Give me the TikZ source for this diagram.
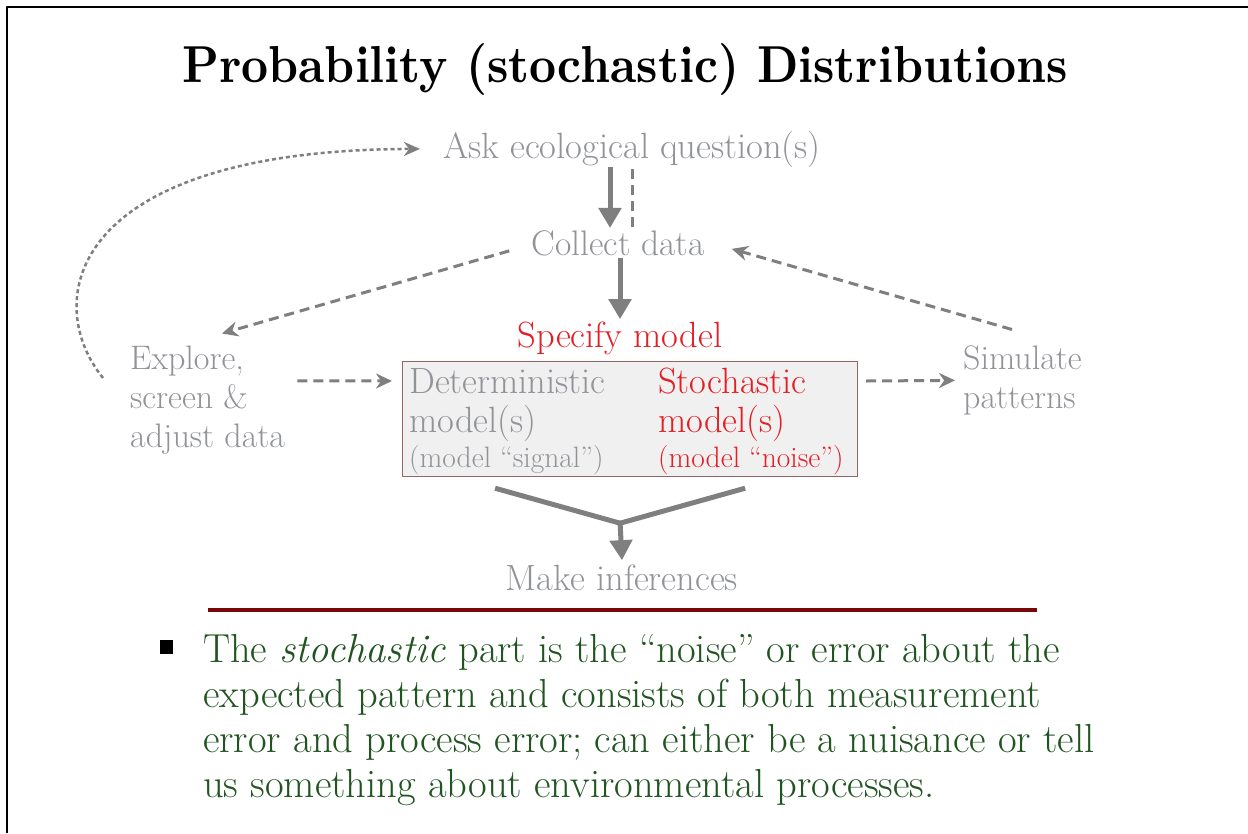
\documentclass[tikz,border=0pt]{standalone}
\usepackage{graphicx}
\usetikzlibrary{arrows.meta,positioning}

\definecolor{txtgray}{RGB}{145,147,152}
\definecolor{arrgray}{RGB}{127,127,127}
\definecolor{hotred}{RGB}{228,30,36}
\definecolor{boxfill}{RGB}{240,240,240}
\definecolor{boxline}{RGB}{150,100,100}
\definecolor{rulered}{RGB}{120,8,8}
\definecolor{notegreen}{RGB}{32,84,32}

\begin{document}
\begin{tikzpicture}[x=1pt, y=-1pt, line join=round,
  lbl/.style={inner sep=0pt, text=txtgray, font=\fontsize{36.5}{39}\selectfont},
  side/.style={inner sep=0pt, text=txtgray, font=\fontsize{34}{39}\selectfont},
  small/.style={inner sep=0pt, font=\fontsize{29.5}{32}\selectfont},
  solidarr/.style={draw=arrgray, line width=5pt, -{Triangle[length=20pt,width=22pt]}},
  dasharr/.style={draw=arrgray, line width=3pt, dash pattern=on 10pt off 6pt, -{Stealth[length=16pt,width=15pt]}},
  dotarr/.style={draw=arrgray, line width=2.5pt, dash pattern=on 4pt off 3pt, -{Stealth[length=16pt,width=14pt]}}]
\useasboundingbox (0,0) rectangle (1248,833);
\fill[white] (0,0) rectangle (1248,833);
\draw[line width=2pt] (1248,7) -- (7,7) -- (7,833);

% title
\node[anchor=base, inner sep=0pt] (title) at (625,82)
  {\resizebox{885pt}{39pt}{\bfseries Probability (stochastic) Distributions}};

% flow
\node[lbl, anchor=base] (ask) at (632,158) {Ask ecological question(s)};
\node[lbl, anchor=base, font=\fontsize{35.5}{39}\selectfont] (collect) at (618,255) {Collect data};
\node[lbl, anchor=base, text=hotred] (specify) at (620,347) {Specify model};
\node[side, anchor=north west, align=left] (explore) at (130,345.5) {Explore,\\screen \&\\adjust data};
\node[side, anchor=north west, align=left] (simulate) at (963,345.5) {Simulate\\patterns};
\node[draw=boxline, line width=1.2pt, fill=boxfill, anchor=north west,
  minimum width=455pt, minimum height=115pt] (modelbox) at (402,361) {};
\node[lbl, anchor=base west] (det1) at (409,393) {Deterministic};
\node[lbl, anchor=base west] (det2) at (409,432) {model(s)};
\node[small, text=txtgray, anchor=base west] (det3) at (409,467) {(model ``signal'')};
\node[lbl, anchor=base west, text=hotred] (sto1) at (658,393) {Stochastic};
\node[lbl, anchor=base west, text=hotred] (sto2) at (658,432) {model(s)};
\node[small, text=hotred, anchor=base west] (sto3) at (658,467) {(model ``noise'')};
\node[lbl, anchor=base] (infer) at (622,590) {Make inferences};
\coordinate (merge) at ([xshift=-10pt,yshift=-46pt]modelbox.south);

\draw[solidarr] ([xshift=-22pt]ask.south) -- ([xshift=-8pt,yshift=2pt]collect.north);
\draw[arrgray, line width=3pt, dash pattern=on 10pt off 6pt] ([xshift=0pt,yshift=-2pt]ask.south) -- ([xshift=14pt]collect.north);
\draw[solidarr] ([xshift=2pt,yshift=-2pt]collect.south) -- ([yshift=2pt]specify.north);
\draw[dasharr] ([xshift=-22pt,yshift=-8pt]collect.west) -- ([xshift=92pt,yshift=12pt]explore.north west);
\draw[dasharr] ([xshift=49pt,yshift=16pt]simulate.north west) -- ([xshift=27pt,yshift=-6pt]collect.east);
\draw[dasharr] ([xshift=12pt,yshift=19pt]explore.east) -- ([xshift=-10pt,yshift=-20pt]modelbox.north west);
\draw[dasharr] ([xshift=8pt,yshift=-20pt]modelbox.north east) -- ([xshift=-8pt]simulate.west);
\draw[dotarr] ([xshift=-27pt,yshift=22pt]explore.west) .. controls (40,300) and (70,150) .. ([xshift=-23pt]ask.west);
\foreach \dx in {-135,115}
  \draw[arrgray, line width=5pt] ([xshift=\dx pt,yshift=-11pt]modelbox.south) -- (merge);
\draw[solidarr] (merge) -- ([yshift=4pt]infer.north);

% note
\draw[rulered, line width=4pt] (208,610) -- (1037,610);
\node[fill=black, minimum width=13pt, minimum height=14pt, inner sep=0pt] (bullet) at (166,647) {};
\node[anchor=north west, inner sep=0pt, align=left, text=notegreen,
  font=\fontsize{40.5}{45}\selectfont] (note) at (203,634)
  {The \textit{stochastic} part is the ``noise'' or error about the\\
   expected pattern and consists of both measurement\\
   error and process error; can either be a nuisance or tell\\
   us something about environmental processes.};
\end{tikzpicture}
\end{document}
